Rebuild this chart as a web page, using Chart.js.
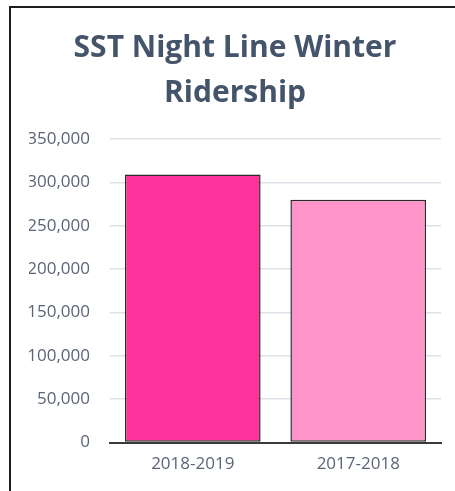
<!DOCTYPE html>
<html>
<head>
<meta charset="utf-8">
<script src="https://cdn.jsdelivr.net/npm/chart.js@4/dist/chart.umd.min.js"></script>
<style>
  html, body { margin: 0; padding: 0; background: #fff; }
  #wrap { width: 455px; height: 491px; position: relative; }
</style>
</head>
<body>
<div id="wrap"><canvas id="ridershipChart"></canvas></div>
<script>
// 数据
const seasons = ['2018-2019', '2017-2018'];
const riders = [309000, 280000];
const barColors = ['#ff3399', '#ff94c8'];
const yTicks = [0, 50000, 100000, 150000, 200000, 250000, 300000, 350000];
const titleLines = ['SST Night Line Winter', 'Ridership'];

// 外框（只有上、左两条边）
const framePlugin = {
  id: 'frame',
  afterDraw(chart) {
    const ctx = chart.ctx;
    ctx.save();
    ctx.strokeStyle = '#1e1e1e';
    ctx.lineWidth = 2;
    ctx.beginPath();
    ctx.moveTo(10, 491);
    ctx.lineTo(10, 7);
    ctx.lineTo(455, 7);
    ctx.stroke();
    ctx.restore();
  }
};

const ctx = document.getElementById('ridershipChart').getContext('2d');
new Chart(ctx, {
  type: 'bar',
  data: {
    labels: seasons,
    datasets: [{
      data: riders,
      backgroundColor: barColors,
      borderColor: '#2a2a2a',
      borderWidth: 1.5,
      borderSkipped: false,
      barPercentage: 0.82,
      categoryPercentage: 1
    }]
  },
  options: {
    responsive: true,
    maintainAspectRatio: false,
    animation: false,
    layout: { padding: { left: 29, right: 14, top: 0, bottom: 6 } },
    plugins: {
      legend: { display: false },
      tooltip: { enabled: false },
      title: {
        display: true,
        text: titleLines,
        color: '#44546a',
        font: { family: 'Open Sans', size: 30, weight: 'bold', lineHeight: 1.5 },
        padding: { top: 26, bottom: 23 }
      }
    },
    scales: {
      x: {
        grid: { display: false, drawTicks: false },
        border: { display: true, color: '#3a3a3a', width: 2 },
        ticks: {
          color: '#5b6477',
          font: { family: 'Open Sans', size: 17 },
          padding: 11
        }
      },
      y: {
        min: 0,
        max: yTicks[yTicks.length - 1],
        afterBuildTicks(scale) {
          scale.ticks = yTicks.map(v => ({ value: v }));
        },
        afterFit(scale) {
          scale.width = 81;
        },
        grid: { color: '#dde1e8', lineWidth: 1.5, drawTicks: false },
        border: { display: false },
        ticks: {
          color: '#5b6477',
          font: { family: 'Open Sans', size: 17 },
          padding: 20,
          callback: v => v.toLocaleString('en-US')
        }
      }
    }
  },
  plugins: [framePlugin]
});
</script>
</body>
</html>
